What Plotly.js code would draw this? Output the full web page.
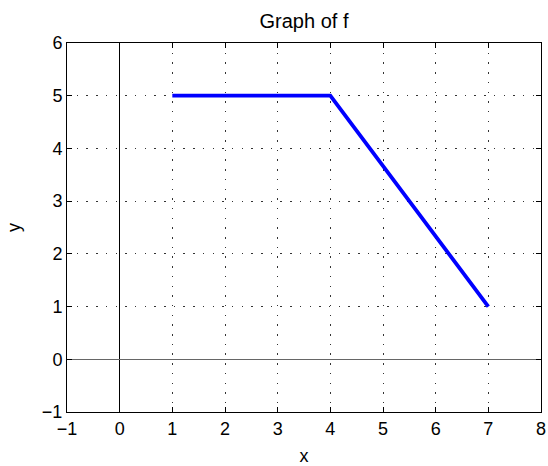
<!DOCTYPE html>
<html><head><meta charset="utf-8">
<script src="https://cdn.plot.ly/plotly-3.0.1.min.js"></script>
<style>html,body{margin:0;padding:0;background:#fff}#plot{width:548px;height:466px}</style>
</head><body><div id="plot"></div>
<script>
const xValues = [1, 4, 7];
const yValues = [5, 5, 1];
const xTicks = [-1, 0, 1, 2, 3, 4, 5, 6, 7, 8];
const yTicks = [-1, 0, 1, 2, 3, 4, 5, 6];

const fam = 'Liberation Sans, Arial, sans-serif';
const axisCommon = {
  showline: true, linecolor: '#000', linewidth: 1, mirror: 'allticks',
  ticks: 'inside', ticklen: 5, tickcolor: '#000', tickwidth: 1,
  showgrid: true, gridcolor: '#333', gridwidth: 1, griddash: '1.5px,8.2px',
  tickfont: {family: fam, size: 18, color: '#000'},
  tickmode: 'array', fixedrange: true
};
const layout = {
  width: 548, height: 466,
  margin: {l: 67, r: 6.5, t: 43, b: 54},
  paper_bgcolor: '#fff', plot_bgcolor: '#fff',
  showlegend: false,
  title: {text: 'Graph of f', font: {family: fam, size: 20, color: '#000'},
          xref: 'paper', x: 0.5, xanchor: 'center', yref: 'container', y: 0.955, yanchor: 'middle'},
  xaxis: Object.assign({}, axisCommon, {
    range: [-1, 8], tickvals: xTicks,
    zeroline: true, zerolinecolor: '#000', zerolinewidth: 1,
    title: {text: 'x', font: {family: fam, size: 18, color: '#000'}, standoff: 12}
  }),
  yaxis: Object.assign({}, axisCommon, {
    range: [-1, 6], tickvals: yTicks,
    zeroline: true, zerolinecolor: '#666', zerolinewidth: 1.5,
    title: {text: 'y', font: {family: fam, size: 18, color: '#000'}, standoff: 16}
  })
};
const data = [{
  x: xValues, y: yValues, type: 'scatter', mode: 'lines',
  line: {color: '#0000ff', width: 3.8}, hoverinfo: 'skip'
}];
Plotly.newPlot('plot', data, layout, {staticPlot: true, displayModeBar: false});
</script></body></html>
